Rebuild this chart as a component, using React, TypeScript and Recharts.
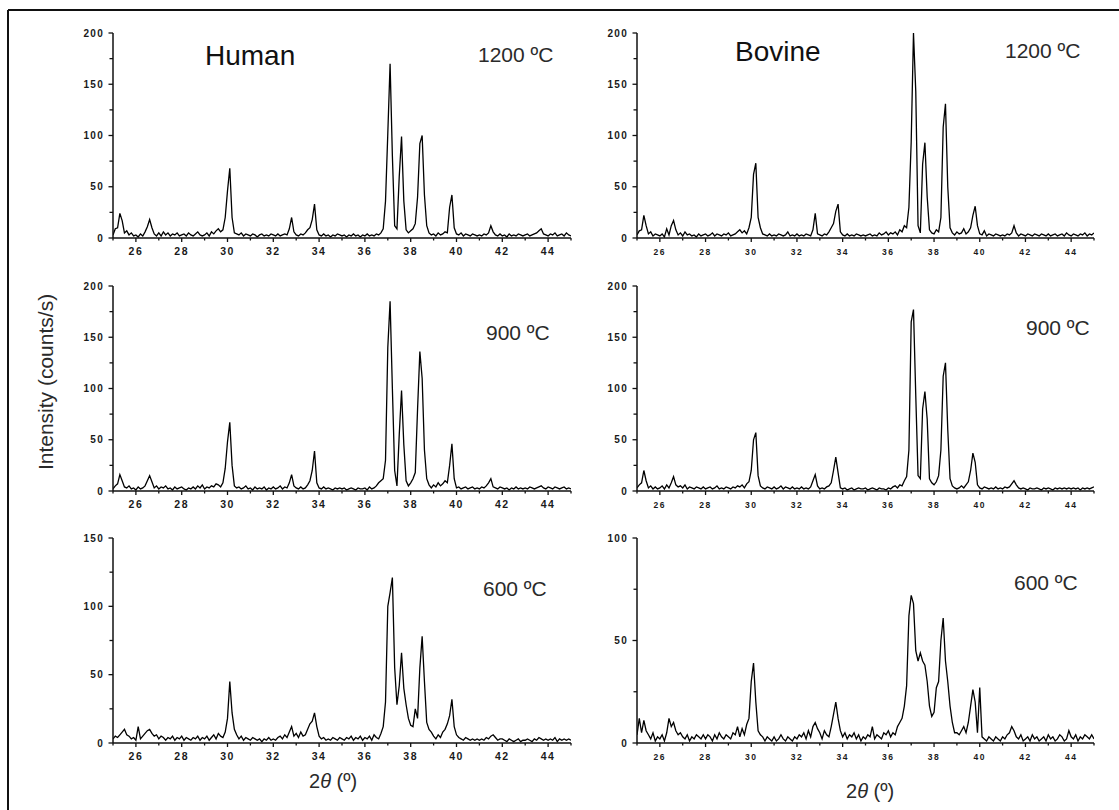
import React from "react";
import { LineChart, Line, XAxis, YAxis } from "recharts";

// 2θ scan grid: 25.0° to 45.0°, 0.1° step (201 categories)
const ANGLES: number[] = Array.from({ length: 201 }, (_, i) => Math.round((25 + i * 0.1) * 10) / 10);

const X_TICKS = [25, 26, 27, 28, 29, 30, 31, 32, 33, 34, 35, 36, 37, 38, 39, 40, 41, 42, 43, 44, 45];
const Y_TICKS_200 = [0, 25, 50, 75, 100, 125, 150, 175, 200];
const Y_TICKS_150 = [0, 25, 50, 75, 100, 125, 150];
const Y_TICKS_100 = [0, 25, 50, 75, 100];

// Human 1200 ºC
const HUMAN_1200 = [
  3, 9, 10, 24, 17, 5, 7, 3, 5, 2,
  3, 1, 4, 2, 6, 11, 18, 10, 4, 2,
  5, 2, 6, 3, 5, 2, 4, 3, 5, 2,
  3, 4, 2, 5, 3, 2, 4, 6, 3, 2,
  3, 5, 2, 6, 4, 7, 9, 6, 8, 20,
  46, 68, 20, 5, 4, 3, 5, 2, 4, 3,
  2, 4, 3, 1, 3, 4, 2, 3, 2, 4,
  3, 2, 4, 2, 3, 4, 3, 9, 20, 6,
  3, 2, 4, 3, 5, 8, 10, 18, 33, 8,
  3, 2, 4, 2, 3, 1, 3, 2, 4, 3,
  2, 3, 1, 3, 2, 4, 2, 3, 1, 3,
  2, 4, 2, 3, 2, 4, 3, 5, 9, 36,
  102, 170, 80, 12, 9, 60, 99, 36, 8, 5,
  7, 9, 14, 40, 92, 100, 42, 12, 5, 3,
  4, 2, 5, 3, 4, 6, 5, 30, 42, 10,
  4, 3, 5, 2, 4, 3, 2, 4, 3, 2,
  3, 2, 4, 3, 5, 12, 6, 3, 2, 4,
  2, 3, 1, 4, 2, 3, 2, 4, 3, 2,
  3, 4, 2, 3, 4, 5, 7, 9, 4, 3,
  2, 4, 3, 5, 2, 3, 4, 2, 5, 3,
  2,
];

// Bovine 1200 ºC
const BOVINE_1200 = [
  3, 7, 8, 22, 12, 4, 6, 2, 4, 3,
  2, 4, 1, 9, 3, 12, 17, 8, 3, 5,
  2, 6, 3, 4, 2, 3, 1, 4, 2, 3,
  4, 2, 3, 5, 2, 4, 3, 2, 4, 3,
  5, 2, 3, 4, 6, 8, 5, 7, 4, 10,
  20, 62, 73, 20, 10, 4, 3, 2, 4, 2,
  3, 2, 4, 3, 2, 3, 6, 2, 3, 2,
  4, 2, 3, 2, 4, 3, 2, 8, 24, 4,
  3, 2, 4, 3, 6, 10, 14, 26, 33, 6,
  3, 2, 4, 2, 3, 2, 4, 3, 2, 3,
  2, 3, 4, 2, 3, 2, 5, 3, 4, 6,
  3, 5, 4, 6, 3, 8, 6, 12, 10, 30,
  94, 200, 143, 12, 5, 72, 93, 40, 8, 5,
  4, 8, 6, 20, 108, 131, 50, 10, 5, 3,
  6, 4, 5, 9, 4, 6, 10, 22, 31, 12,
  4, 3, 7, 2, 4, 3, 2, 4, 3, 2,
  3, 2, 4, 3, 5, 12, 5, 2, 4, 3,
  2, 4, 3, 2, 4, 3, 2, 4, 3, 2,
  4, 2, 3, 4, 2, 3, 4, 2, 5, 3,
  2, 4, 3, 2, 4, 3, 5, 2, 4, 3,
  5,
];

// Human 900 ºC
const HUMAN_900 = [
  2, 5, 7, 16, 10, 4, 3, 5, 2, 3,
  1, 4, 2, 3, 5, 10, 15, 9, 3, 5,
  2, 4, 3, 5, 2, 3, 1, 4, 2, 3,
  4, 2, 1, 3, 2, 4, 2, 5, 3, 6,
  2, 4, 3, 5, 4, 7, 6, 4, 8, 22,
  48, 67, 25, 5, 3, 4, 2, 3, 5, 2,
  3, 1, 4, 2, 3, 2, 4, 1, 3, 2,
  4, 2, 3, 5, 2, 4, 3, 8, 16, 5,
  3, 2, 4, 2, 3, 6, 10, 20, 39, 8,
  3, 2, 4, 2, 3, 2, 1, 3, 2, 3,
  2, 3, 1, 2, 3, 2, 1, 3, 2, 2,
  3, 1, 4, 2, 3, 5, 8, 10, 12, 30,
  140, 185, 100, 20, 5, 55, 98, 45, 10, 5,
  8, 12, 18, 80, 136, 110, 40, 12, 6, 3,
  6, 4, 8, 5, 7, 10, 8, 25, 46, 12,
  3, 4, 2, 3, 4, 2, 3, 4, 2, 3,
  2, 4, 3, 5, 8, 12, 4, 3, 2, 4,
  3, 2, 3, 1, 3, 2, 4, 2, 3, 2,
  3, 2, 4, 3, 2, 3, 4, 5, 3, 2,
  4, 3, 2, 4, 3, 2, 3, 4, 2, 3,
  2,
];

// Bovine 900 ºC
const BOVINE_900 = [
  3, 6, 8, 20, 10, 3, 5, 2, 4, 2,
  3, 5, 2, 6, 3, 8, 14, 6, 4, 5,
  3, 6, 2, 4, 3, 2, 4, 3, 2, 4,
  2, 3, 4, 2, 3, 5, 2, 3, 2, 4,
  3, 2, 4, 3, 5, 4, 6, 3, 7, 9,
  20, 50, 57, 15, 5, 3, 2, 4, 3, 2,
  4, 2, 3, 5, 2, 4, 3, 2, 4, 2,
  3, 2, 4, 2, 3, 2, 4, 10, 16, 5,
  2, 3, 2, 4, 5, 8, 20, 33, 18, 3,
  2, 3, 1, 2, 3, 1, 2, 3, 2, 2,
  3, 1, 2, 3, 2, 1, 3, 2, 2, 1,
  3, 2, 4, 5, 3, 6, 5, 10, 14, 40,
  165, 177, 93, 15, 12, 80, 97, 70, 12, 8,
  6, 9, 15, 40, 112, 125, 60, 12, 5, 3,
  2, 3, 5, 3, 6, 9, 20, 37, 28, 6,
  3, 2, 4, 3, 2, 3, 2, 4, 2, 3,
  2, 4, 3, 4, 7, 10, 6, 3, 2, 3,
  2, 1, 3, 2, 2, 3, 2, 1, 3, 2,
  3, 2, 1, 3, 2, 3, 2, 3, 2, 3,
  2, 3, 2, 3, 1, 3, 2, 3, 2, 3,
  4,
];

// Human 600 ºC
const HUMAN_600 = [
  3, 5, 4, 6, 8, 10, 6, 5, 3, 4,
  2, 12, 3, 5, 7, 9, 10, 7, 5, 6,
  3, 5, 4, 2, 4, 3, 5, 2, 4, 3,
  5, 2, 4, 3, 2, 4, 3, 5, 2, 4,
  3, 5, 2, 4, 6, 3, 7, 5, 4, 8,
  18, 45, 22, 10, 6, 3, 5, 2, 4, 3,
  2, 4, 3, 2, 3, 1, 3, 2, 4, 2,
  3, 2, 4, 5, 3, 6, 4, 8, 12, 5,
  7, 4, 8, 5, 6, 10, 14, 16, 22, 12,
  5, 3, 4, 2, 3, 2, 4, 3, 2, 4,
  3, 2, 4, 3, 5, 2, 4, 3, 5, 2,
  4, 3, 5, 2, 6, 4, 3, 7, 12, 30,
  100, 110, 121, 55, 28, 42, 66, 40, 28, 18,
  13, 12, 25, 18, 55, 78, 45, 15, 10, 8,
  5, 3, 6, 4, 8, 10, 14, 20, 32, 12,
  6, 4, 3, 2, 4, 3, 2, 3, 2, 3,
  2, 3, 2, 4, 3, 5, 6, 4, 2, 3,
  3, 2, 1, 3, 2, 1, 2, 3, 1, 2,
  2, 3, 2, 1, 3, 2, 4, 3, 2, 3,
  2, 3, 2, 4, 1, 3, 2, 3, 2, 3,
  2,
];

// Bovine 600 ºC
const BOVINE_600 = [
  4, 12, 5, 11, 6, 4, 2, 5, 1, 3,
  2, 4, 1, 5, 12, 8, 10, 6, 4, 5,
  3, 2, 4, 1, 3, 2, 4, 3, 2, 4,
  2, 4, 3, 1, 4, 2, 5, 3, 2, 4,
  3, 2, 5, 4, 8, 3, 7, 4, 9, 12,
  30, 39, 20, 6, 4, 3, 1, 3, 2, 1,
  3, 1, 2, 4, 2, 1, 3, 2, 1, 3,
  2, 4, 3, 5, 2, 6, 3, 8, 10, 7,
  5, 2, 6, 4, 3, 8, 14, 20, 12, 6,
  3, 5, 2, 4, 3, 5, 2, 4, 1, 3,
  2, 4, 3, 8, 2, 4, 3, 2, 5, 4,
  6, 3, 5, 4, 8, 10, 12, 18, 28, 62,
  72, 68, 45, 40, 44, 40, 38, 30, 18, 13,
  15, 27, 30, 50, 61, 40, 30, 18, 10, 5,
  5, 4, 6, 8, 5, 10, 18, 26, 20, 5,
  27, 3, 2, 1, 3, 2, 1, 3, 2, 1,
  3, 2, 4, 5, 8, 6, 3, 2, 4, 1,
  2, 3, 1, 4, 2, 3, 1, 2, 3, 1,
  4, 2, 3, 1, 2, 4, 3, 1, 2, 6,
  3, 2, 4, 1, 3, 2, 4, 3, 2, 4,
  2,
];

const FONT = "'Liberation Sans', Arial, Helvetica, sans-serif";
const INK = "#111";

const AXIS_W = 50;
const TOP_PAD = 10;
const RIGHT_PAD = 10;
const XAXIS_H = 25;
const PLOT_H = 205;

type Panel = {
  key: string;
  values: number[];
  yMax: number;
  yTicks: number[];
  left: number;
  top: number;
  plotW: number;
  xFont: number;
};

const PANELS: Panel[] = [
  { key: "h1200", values: HUMAN_1200, yMax: 200, yTicks: Y_TICKS_200, left: 113, top: 33, plotW: 458, xFont: 10.5 },
  { key: "b1200", values: BOVINE_1200, yMax: 200, yTicks: Y_TICKS_200, left: 637, top: 33, plotW: 457, xFont: 8.5 },
  { key: "h900", values: HUMAN_900, yMax: 200, yTicks: Y_TICKS_200, left: 113, top: 286, plotW: 458, xFont: 10.5 },
  { key: "b900", values: BOVINE_900, yMax: 200, yTicks: Y_TICKS_200, left: 637, top: 286, plotW: 457, xFont: 8.5 },
  { key: "h600", values: HUMAN_600, yMax: 150, yTicks: Y_TICKS_150, left: 113, top: 538, plotW: 458, xFont: 10.5 },
  { key: "b600", values: BOVINE_600, yMax: 100, yTicks: Y_TICKS_100, left: 637, top: 538, plotW: 457, xFont: 8.5 },
];

function makeXTick(fontSize: number) {
  return (props: any) => {
    const { x, y, payload } = props;
    const v = payload.value as number;
    const major = v % 2 === 0;
    return (
      <g>
        <line x1={x} y1={y} x2={x} y2={y + (major ? 4 : 2.5)} stroke={INK} strokeWidth={1.3} />
        {major ? (
          <text
            x={x}
            y={y + 17}
            textAnchor="middle"
            fontFamily={FONT}
            fontSize={fontSize}
            fontWeight={700}
            letterSpacing={1.5}
            fill="#1a1a1a"
          >
            {v}
          </text>
        ) : null}
      </g>
    );
  };
}

const YTick = (props: any) => {
  const { x, y, payload } = props;
  const v = payload.value as number;
  const major = v % 50 === 0;
  return (
    <g>
      <line x1={x - (major ? 4.5 : 3.5)} y1={y} x2={x} y2={y} stroke={INK} strokeWidth={1.3} />
      {major ? (
        <text
          x={x - 9}
          y={y + 3.5}
          textAnchor="end"
          fontFamily={FONT}
          fontSize={10}
          fontWeight={700}
          letterSpacing={1.3}
          fill="#1a1a1a"
        >
          {v}
        </text>
      ) : null}
    </g>
  );
};

function PanelChart({ p }: { p: Panel }) {
  const data = p.values.map((y, i) => ({ x: ANGLES[i], y }));
  const width = AXIS_W + p.plotW + RIGHT_PAD;
  const height = TOP_PAD + PLOT_H + XAXIS_H;
  return (
    <div style={{ position: "absolute", left: p.left - AXIS_W, top: p.top - TOP_PAD }}>
      <LineChart
        width={width}
        height={height}
        data={data}
        margin={{ top: TOP_PAD, right: RIGHT_PAD, left: 0, bottom: 0 }}
      >
        <XAxis
          dataKey="x"
          type="number"
          domain={[25, 45]}
          ticks={X_TICKS}
          interval={0}
          allowDataOverflow
          height={XAXIS_H}
          tickSize={0}
          tickMargin={0}
          tickLine={false}
          axisLine={{ stroke: INK, strokeWidth: 1.5 }}
          tick={makeXTick(p.xFont)}
        />
        <YAxis
          type="number"
          domain={[0, p.yMax]}
          ticks={p.yTicks}
          interval={0}
          allowDataOverflow
          width={AXIS_W}
          tickSize={0}
          tickMargin={0}
          tickLine={false}
          axisLine={{ stroke: INK, strokeWidth: 1.5 }}
          tick={YTick}
        />
        <Line
          type="linear"
          dataKey="y"
          stroke="#000"
          strokeWidth={1.3}
          dot={false}
          isAnimationActive={false}
        />
      </LineChart>
    </div>
  );
}

export default function App() {
  const tempStyle = { fontFamily: FONT, fontSize: 21, fill: "#2a2a2a" } as const;
  return (
    <div style={{ position: "absolute", left: 0, top: 0, width: 1119, height: 810, background: "#fff", overflow: "hidden" }}>
      {PANELS.map((p) => (
        <PanelChart key={p.key} p={p} />
      ))}
      <svg width={1119} height={810} style={{ position: "absolute", left: 0, top: 0, pointerEvents: "none" }}>
        <line x1={8} y1={10} x2={1119} y2={10} stroke={INK} strokeWidth={2} />
        <line x1={8} y1={10} x2={8} y2={810} stroke={INK} strokeWidth={2} />
        <text x={205} y={65} fontFamily={FONT} fontSize={28} fill="#111">Human</text>
        <text x={735} y={61} fontFamily={FONT} fontSize={28} fill="#111">Bovine</text>
        <text x={478} y={62} {...tempStyle}>1200 ºC</text>
        <text x={1005} y={58} {...tempStyle}>1200 ºC</text>
        <text x={486} y={340} {...tempStyle}>900 ºC</text>
        <text x={1026} y={335} {...tempStyle}>900 ºC</text>
        <text x={483} y={596} {...tempStyle}>600 ºC</text>
        <text x={1014} y={590} {...tempStyle}>600 ºC</text>
        <text x={309} y={788} fontFamily={FONT} fontSize={20} fill="#2a2a2a">
          2<tspan fontStyle="italic">θ</tspan> (º)
        </text>
        <text x={846} y={798} fontFamily={FONT} fontSize={20} fill="#2a2a2a">
          2<tspan fontStyle="italic">θ</tspan> (º)
        </text>
        <text
          x={53}
          y={382}
          transform="rotate(-90 53 382)"
          textAnchor="middle"
          fontFamily={FONT}
          fontSize={21}
          fill="#2a2a2a"
        >
          Intensity (counts/s)
        </text>
      </svg>
    </div>
  );
}
